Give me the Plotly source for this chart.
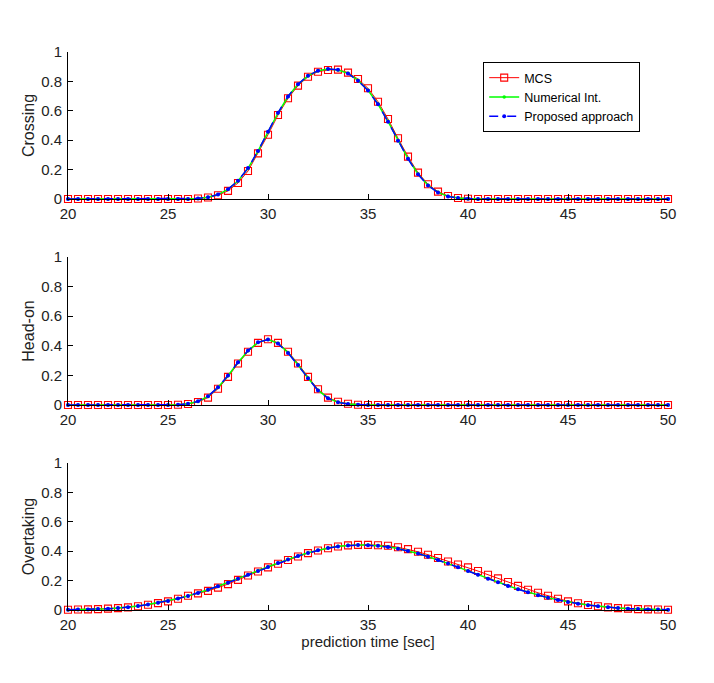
import plotly.graph_objects as go
import numpy as np

t = np.round(np.arange(20, 50.001, 0.5), 1)

# ---- Crossing ----
cross_mcs = [0]*13 + [0.003, 0.010, 0.025, 0.055, 0.109, 0.190, 0.310, 0.437, 0.571, 0.685,
                      0.771, 0.832, 0.866, 0.878, 0.880, 0.860, 0.816, 0.753, 0.662, 0.544,
                      0.413, 0.288, 0.179, 0.100, 0.050, 0.020, 0.007, 0.002] + [0]*20
cross_num = [0]*13 + [0.004, 0.012, 0.030, 0.065, 0.122, 0.208, 0.325, 0.455, 0.585, 0.697,
                      0.780, 0.838, 0.872, 0.884, 0.878, 0.855, 0.807, 0.740, 0.646, 0.528,
                      0.398, 0.275, 0.170, 0.093, 0.045, 0.018, 0.006, 0.002] + [0]*20
cross_prop = [0]*13 + [0.004, 0.012, 0.031, 0.066, 0.124, 0.210, 0.327, 0.457, 0.586, 0.698,
                       0.781, 0.839, 0.873, 0.885, 0.879, 0.854, 0.805, 0.738, 0.644, 0.526,
                       0.396, 0.273, 0.168, 0.092, 0.044, 0.017, 0.006, 0.002] + [0]*20

# ---- Head-on ----
head_mcs = [0]*11 + [0.002, 0.007, 0.020, 0.050, 0.110, 0.190, 0.280, 0.360, 0.420, 0.444,
                     0.420, 0.360, 0.280, 0.190, 0.106, 0.050, 0.022, 0.008, 0.002] + [0]*31
head_num = [0]*11 + [0.002, 0.008, 0.024, 0.058, 0.118, 0.198, 0.287, 0.366, 0.423, 0.443,
                     0.417, 0.354, 0.272, 0.182, 0.100, 0.046, 0.018, 0.006, 0.001] + [0]*31
head_prop = [0]*11 + [0.002, 0.008, 0.025, 0.059, 0.120, 0.200, 0.289, 0.368, 0.424, 0.442,
                      0.415, 0.352, 0.270, 0.180, 0.098, 0.045, 0.018, 0.006, 0.001] + [0]*31

# ---- Overtaking ----
over_mcs = [0.002, 0.003, 0.004, 0.006, 0.009, 0.013, 0.018, 0.026, 0.036, 0.047,
            0.059, 0.077, 0.097, 0.113, 0.130, 0.152, 0.176, 0.205, 0.235, 0.262,
            0.290, 0.315, 0.340, 0.364, 0.387, 0.405, 0.420, 0.432, 0.440, 0.443,
            0.443, 0.441, 0.437, 0.427, 0.414, 0.396, 0.376, 0.354, 0.330, 0.310,
            0.290, 0.265, 0.240, 0.215, 0.190, 0.164, 0.138, 0.117, 0.097, 0.077,
            0.059, 0.046, 0.034, 0.025, 0.018, 0.013, 0.009, 0.006, 0.004, 0.003, 0.002]
over_num = [0.002, 0.003, 0.004, 0.006, 0.009, 0.013, 0.019, 0.027, 0.037, 0.049,
            0.062, 0.078, 0.096, 0.116, 0.138, 0.162, 0.187, 0.213, 0.240, 0.267,
            0.294, 0.320, 0.345, 0.368, 0.389, 0.407, 0.422, 0.433, 0.440, 0.443,
            0.442, 0.438, 0.430, 0.418, 0.403, 0.385, 0.364, 0.341, 0.317, 0.292,
            0.266, 0.240, 0.214, 0.189, 0.165, 0.142, 0.121, 0.102, 0.084, 0.069,
            0.055, 0.044, 0.034, 0.026, 0.019, 0.014, 0.010, 0.007, 0.005, 0.003, 0.002]
over_prop = [0.002, 0.003, 0.004, 0.006, 0.009, 0.013, 0.019, 0.027, 0.037, 0.049,
             0.062, 0.078, 0.096, 0.116, 0.138, 0.161, 0.186, 0.212, 0.239, 0.266,
             0.293, 0.319, 0.344, 0.367, 0.388, 0.406, 0.421, 0.432, 0.439, 0.442,
             0.441, 0.437, 0.429, 0.417, 0.402, 0.384, 0.363, 0.340, 0.316, 0.291,
             0.265, 0.239, 0.213, 0.188, 0.164, 0.141, 0.120, 0.101, 0.083, 0.068,
             0.054, 0.043, 0.033, 0.025, 0.018, 0.013, 0.009, 0.006, 0.004, 0.003, 0.002]

panels = [("Crossing", cross_mcs, cross_num, cross_prop),
          ("Head-on", head_mcs, head_num, head_prop),
          ("Overtaking", over_mcs, over_num, over_prop)]

fig = go.Figure()
font = "Liberation Sans, Arial, sans-serif"
for i, (name, mcs, num, prop) in enumerate(panels):
    xa = "x" if i == 0 else f"x{i+1}"
    ya = "y" if i == 0 else f"y{i+1}"
    show = (i == 0)
    fig.add_trace(go.Scatter(x=t, y=mcs, xaxis=xa, yaxis=ya, name="MCS", showlegend=show,
                             mode="lines+markers", cliponaxis=False,
                             line=dict(color="#ff0000", width=1),
                             marker=dict(symbol="square-open", size=7, color="#ff0000",
                                         line=dict(width=1.1))))
    fig.add_trace(go.Scatter(x=t, y=num, xaxis=xa, yaxis=ya, name="Numerical Int.", showlegend=show,
                             mode="lines+markers", cliponaxis=False,
                             line=dict(color="#00ff00", width=1.5),
                             marker=dict(symbol="circle", size=3.5, color="#00ff00")))
    fig.add_trace(go.Scatter(x=t, y=prop, xaxis=xa, yaxis=ya, name="Proposed approach", showlegend=show,
                             mode="lines+markers", cliponaxis=False,
                             line=dict(color="#0000ff", width=1.5, dash="dash"),
                             marker=dict(symbol="circle", size=4, color="#0000ff")))

domains = [[0.7366, 1.0], [0.3674, 0.6326], [0.0, 0.2634]]
axis_common = dict(showline=True, linecolor="#000000", linewidth=1, ticks="inside",
                   ticklen=5, tickcolor="#000000", showgrid=False, zeroline=False,
                   tickfont=dict(family=font, size=15, color="#222222"))
layout = {}
for i, (name, *_rest) in enumerate(panels):
    xk = "xaxis" if i == 0 else f"xaxis{i+1}"
    yk = "yaxis" if i == 0 else f"yaxis{i+1}"
    xa = dict(axis_common, range=[20, 50], tickvals=[20, 25, 30, 35, 40, 45, 50],
              domain=[0, 1], anchor="y" if i == 0 else f"y{i+1}", ticklabelstandoff=1)
    if i == 2:
        xa["title"] = dict(text="prediction time [sec]", font=dict(family=font, size=15, color="#222222"),
                           standoff=2)
    ya = dict(axis_common, range=[0, 1], tickvals=[0, 0.2, 0.4, 0.6, 0.8, 1],
              ticktext=["0", "0.2", "0.4", "0.6", "0.8", "1"],
              domain=domains[i], anchor="x" if i == 0 else f"x{i+1}", ticklabelstandoff=2,
              title=dict(text=name, font=dict(family=font, size=16, color="#222222"), standoff=2))
    layout[xk] = xa
    layout[yk] = ya

fig.update_layout(**layout)
fig.update_layout(
    width=706, height=675,
    margin=dict(l=60, r=46, t=44, b=73),
    paper_bgcolor="white", plot_bgcolor="white",
    showlegend=True,
    legend=dict(x=0.692, y=0.982, xanchor="left", yanchor="top",
                bgcolor="white", bordercolor="#000000", borderwidth=1,
                font=dict(family=font, size=12.5, color="#000000"),
                tracegroupgap=0, itemwidth=30),
)
fig.write_html("out.html")
